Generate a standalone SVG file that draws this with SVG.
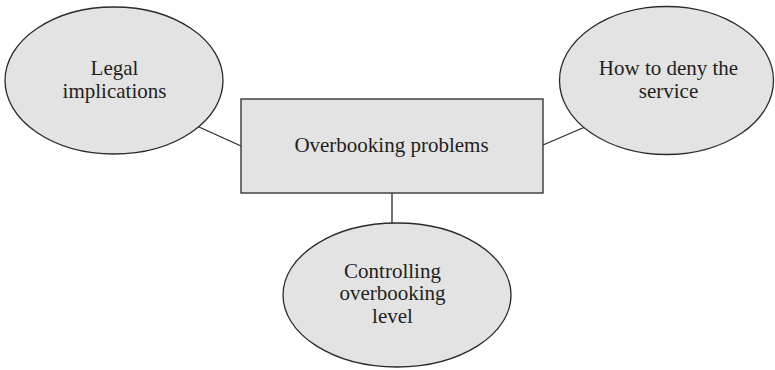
<svg xmlns="http://www.w3.org/2000/svg" width="775" height="370" viewBox="0 0 775 370">
<style>
.shape{fill:#e3e3e3;stroke:#2a2a2a;stroke-width:1.3}
.conn{stroke:#2a2a2a;stroke-width:1.3;fill:none}
text{font-family:"Liberation Serif","Times New Roman",serif;font-size:21px;fill:#231f20;text-anchor:middle}
</style>
<rect width="775" height="370" fill="#ffffff"/>
<g id="connectors">
<line class="conn" x1="199" y1="127" x2="241" y2="146"/>
<line class="conn" x1="543" y1="145" x2="585" y2="127"/>
<line class="conn" x1="392" y1="193" x2="392" y2="223"/>
</g>
<g id="node-legal">
<ellipse class="shape" cx="114" cy="80.5" rx="109" ry="73.5"/>
<text x="114.5" y="75">Legal</text>
<text x="114.5" y="97.5">implications</text>
</g>
<g id="node-deny">
<ellipse class="shape" cx="666.5" cy="80.5" rx="107" ry="74"/>
<text x="668.5" y="75">How to deny the</text>
<text x="668.5" y="97.5">service</text>
</g>
<g id="node-main">
<rect class="shape" x="241" y="99" width="302" height="94"/>
<text x="391.5" y="152">Overbooking problems</text>
</g>
<g id="node-control">
<ellipse class="shape" cx="397" cy="295" rx="114" ry="72"/>
<text x="392.5" y="278">Controlling</text>
<text x="392.5" y="300">overbooking</text>
<text x="392.5" y="322.5">level</text>
</g>
</svg>
